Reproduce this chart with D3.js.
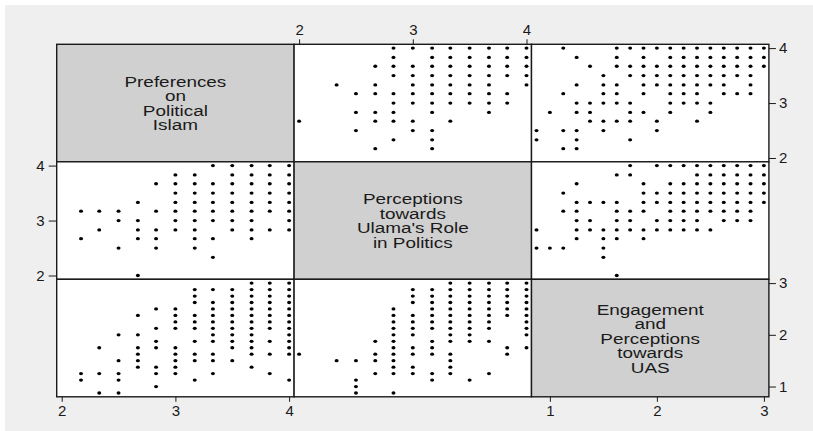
<!DOCTYPE html>
<html>
<head>
  <meta charset="UTF-8">
  <title>Scatter matrix</title>
  <style>
    html, body { margin: 0; padding: 0; background: #fff; }
    svg { display: block; font-family: "Liberation Sans", Arial, Helvetica, sans-serif; }
  </style>
</head>
<body>
  <svg id="matrix" width="813" height="431"></svg>

  <script src="https://d3js.org/d3.v7.min.js"></script>
  <script>

    // variable names (diagonal), axis ticks and axis ranges
    var varLabels = [
      ["Preferences", "on", "Political", "Islam"],
      ["Perceptions", "towards", "Ulama's Role", "in Politics"],
      ["Engagement", "and", "Perceptions", "towards", "UAS"]
    ];
    var varTicks = [[2, 3, 4], [2, 3, 4], [1, 2, 3]];
    var varDomains = [[2, 4], [2, 4], [0.875, 3]];

    // observed pairs, grouped by the first variable: [value, [values of the second variable]]
    // Political Islam vs Ulama's Role
    var islamUlama = [
      [2.17, [3.17, 2.67]],
      [2.33, [3.17, 2.83]],
      [2.5,  [3.17, 3, 2.5]],
      [2.67, [3.33, 3, 2.83, 2.67, 2]],
      [2.83, [3.67, 3.17, 2.83, 2.67, 2.5]],
      [3,    [3.83, 3.67, 3.5, 3.33, 3.17, 3, 2.83]],
      [3.17, [3.83, 3.67, 3.5, 3.33, 3.17, 3, 2.83, 2.67, 2.5]],
      [3.33, [4, 3.67, 3.5, 3.33, 3.17, 3, 2.67, 2.33]],
      [3.5,  [4, 3.83, 3.67, 3.5, 3.33, 3.17, 3, 2.83]],
      [3.67, [4, 3.83, 3.67, 3.5, 3.33, 3.17, 3, 2.83, 2.67]],
      [3.83, [4, 3.83, 3.67, 3.5, 3.33, 3.17, 2.83]],
      [4,    [4, 3.83, 3.67, 3.5, 3.33, 3.17, 3, 2.83]]
    ];

    // Political Islam vs UAS
    var islamUas = [
      [2.17, [1.25, 1.125]],
      [2.33, [1.75, 1.25, 0.875]],
      [2.5,  [2, 1.5, 1.25, 1.125, 0.875]],
      [2.67, [2.375, 2, 1.75, 1.625, 1.5, 1.375]],
      [2.83, [2.5, 2.125, 1.875, 1.75, 1.375, 1.25, 1]],
      [3,    [2.5, 2.375, 2.25, 2.125, 1.75, 1.625, 1.5, 1.375, 1.25]],
      [3.17, [2.875, 2.75, 2.625, 2.375, 2.25, 2.125, 1.875, 1.625, 1.5, 1.125]],
      [3.33, [2.875, 2.625, 2.5, 2.375, 2.25, 2.125, 2, 1.875, 1.625, 1.5, 1.25]],
      [3.5,  [2.875, 2.75, 2.625, 2.5, 2.375, 2.25, 2.125, 2, 1.875, 1.75, 1.5]],
      [3.67, [3, 2.875, 2.75, 2.625, 2.5, 2.375, 2.25, 2.125, 2, 1.875, 1.75, 1.625, 1.375]],
      [3.83, [3, 2.875, 2.75, 2.625, 2.5, 2.375, 2.25, 2.125, 1.875, 1.625, 1.25]],
      [4,    [3, 2.875, 2.75, 2.625, 2.5, 2.375, 2.25, 2.125, 2, 1.875, 1.75, 1.625, 1.125]]
    ];

    // Ulama's Role vs UAS
    var ulamaUas = [
      [2,    [1.625]],
      [2.33, [1.5]],
      [2.5,  [1.5, 1.125, 1, 0.875]],
      [2.67, [1.875, 1.625, 1.5, 1.25]],
      [2.83, [2.5, 2.375, 2.25, 2.125, 2, 1.875, 1.75, 1.625, 1.5, 1.375, 1.25, 0.875]],
      [3,    [2.875, 2.75, 2.625, 2.375, 2.25, 2.125, 2, 1.75, 1.625, 1.375, 1.25]],
      [3.17, [2.875, 2.75, 2.625, 2.5, 2.375, 2.25, 2.125, 1.875, 1.75, 1.625, 1.25, 1.125]],
      [3.33, [3, 2.875, 2.75, 2.625, 2.5, 2.375, 2.25, 2.125, 2, 1.875, 1.625, 1.5, 1.375, 1.25]],
      [3.5,  [3, 2.875, 2.75, 2.625, 2.5, 2.375, 2.25, 2.125, 2, 1.875, 1.125]],
      [3.67, [3, 2.875, 2.75, 2.625, 2.5, 2.375, 2.25, 2.125, 1.875, 1.25]],
      [3.83, [3, 2.875, 2.75, 2.625, 2.5, 2.375, 1.75, 1.625]],
      [4,    [3, 2.875, 2.75, 2.625, 2.5, 2.375, 2.25, 2.125, 2, 1.75]]
    ];

    function flatten(groups) {
      var out = [];
      groups.forEach(function(g) {
        g[1].forEach(function(v) { out.push([g[0], v]); });
      });
      return out;
    }

    var pairs = {
      "0-1": flatten(islamUlama),
      "0-2": flatten(islamUas),
      "1-2": flatten(ulamaUas)
    };

    var svg = d3.select("#matrix");
    var x0 = 56.7, y0 = 44.3, W = 237.4, H = 117.5;
    var padX = 5, padY = 3.8;
    var stretch = 1.22;   // the original picture is a bit wider than tall

    svg.append("rect")
      .attr("x", 5).attr("y", 5)
      .attr("width", 808).attr("height", 426)
      .attr("fill", "#efefef");

    var xs = varDomains.map(function(d, c) {
      return d3.scaleLinear().domain(d).range([x0 + c * W + padX, x0 + (c + 1) * W - padX]);
    });
    var ys = varDomains.map(function(d, r) {
      return d3.scaleLinear().domain(d).range([y0 + (r + 1) * H - padY, y0 + r * H + padY]);
    });

    for (var r = 0; r < 3; r++) {
      for (var c = 0; c < 3; c++) {
        var cell = svg.append("g").attr("class", "cell");
        cell.append("rect")
          .attr("x", x0 + c * W).attr("y", y0 + r * H)
          .attr("width", W).attr("height", H)
          .attr("fill", r === c ? "#d0d0d0" : "#fff")
          .attr("stroke", "#1a1a1a")
          .attr("stroke-width", 1.4);

        if (r === c) {
          // variable name, one text with a tspan per line (lines sit tight like Stata's)
          var lines = varLabels[r];
          var lh = 14.5;
          var cx = x0 + c * W + W / 2, cy = y0 + r * H + H / 2;
          var firstY = cy - (lines.length - 1) / 2 * lh + 5.5;
          var label = cell.append("text")
            .attr("transform", "translate(" + cx + "," + firstY + ") scale(" + stretch + ",1)")
            .attr("text-anchor", "middle")
            .attr("font-size", "15.5px")
            .attr("fill", "#1a1a1a");
          label.selectAll("tspan")
            .data(lines)
            .enter().append("tspan")
              .attr("x", 0)
              .attr("y", function(d, i) { return i * lh; })
              .text(function(d) { return d; });
          continue;
        }

        // rows are the y variable, columns the x variable
        var key = Math.min(r, c) + "-" + Math.max(r, c);
        var flip = r < c;
        var xsc = xs[c], ysc = ys[r];
        cell.selectAll("ellipse")
          .data(pairs[key])
          .enter().append("ellipse")
            .attr("cx", function(d) { return xsc(flip ? d[1] : d[0]); })
            .attr("cy", function(d) { return ysc(flip ? d[0] : d[1]); })
            .attr("rx", 2)
            .attr("ry", 1.65)
            .attr("fill", "#000");
      }
    }

    var fmt = d3.format("d");

    function styleAxis(g) {
      g.select(".domain").remove();
      g.selectAll(".tick line").attr("stroke", "#1a1a1a");
      g.selectAll(".tick text")
        .attr("font-size", "15px")
        .attr("fill", "#1a1a1a")
        .attr("font-family", "Liberation Sans, Arial, sans-serif");
    }

    // x axes: column 1 bottom, column 2 top, column 3 bottom
    svg.append("g")
      .attr("transform", "translate(0," + (y0 + 3 * H) + ")")
      .call(d3.axisBottom(xs[0]).tickValues(varTicks[0]).tickFormat(fmt).tickSize(5).tickPadding(4))
      .call(styleAxis);
    svg.append("g")
      .attr("transform", "translate(0," + y0 + ")")
      .call(d3.axisTop(xs[1]).tickValues(varTicks[1]).tickFormat(fmt).tickSize(5).tickPadding(4))
      .call(styleAxis);
    svg.append("g")
      .attr("transform", "translate(0," + (y0 + 3 * H) + ")")
      .call(d3.axisBottom(xs[2]).tickValues(varTicks[2]).tickFormat(fmt).tickSize(5).tickPadding(4))
      .call(styleAxis);

    // y axes: row 1 right, row 2 left, row 3 right
    svg.append("g")
      .attr("transform", "translate(" + (x0 + 3 * W) + ",0)")
      .call(d3.axisRight(ys[0]).tickValues(varTicks[0]).tickFormat(fmt).tickSize(7).tickPadding(3))
      .call(styleAxis);
    svg.append("g")
      .attr("transform", "translate(" + x0 + ",0)")
      .call(d3.axisLeft(ys[1]).tickValues(varTicks[1]).tickFormat(fmt).tickSize(8).tickPadding(4))
      .call(styleAxis);
    svg.append("g")
      .attr("transform", "translate(" + (x0 + 3 * W) + ",0)")
      .call(d3.axisRight(ys[2]).tickValues(varTicks[2]).tickFormat(fmt).tickSize(7).tickPadding(3))
      .call(styleAxis);
  </script>
</body>
</html>
